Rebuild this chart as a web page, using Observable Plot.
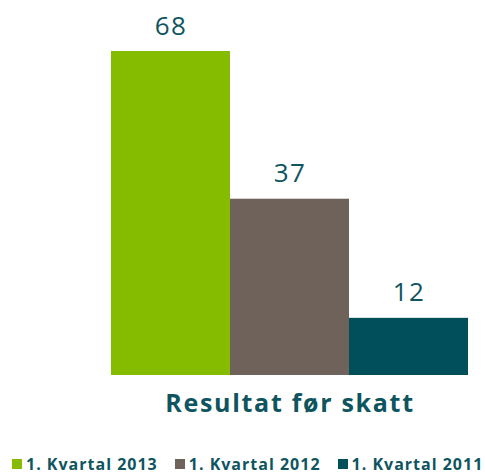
<!DOCTYPE html>
<html>
<head>
<meta charset="utf-8">
<script src="https://cdn.jsdelivr.net/npm/d3@7"></script>
<script src="https://cdn.jsdelivr.net/npm/@observablehq/plot@0.6"></script>
<style>
  body { margin: 0; background: #fff; font-family: "Open Sans", sans-serif; }
  #wrap { position: relative; width: 485px; height: 474px; overflow: hidden; }
  #legend { position: absolute; left: 12px; top: 455px; display: flex; white-space: nowrap;
    font: bold 16px/18px "Open Sans", sans-serif; letter-spacing: 1px; color: #0e5560; }
  .item { display: flex; align-items: center; margin-right: 17px; }
  .sw { width: 10px; height: 10px; margin-right: 4px; }
</style>
</head>
<body>
<div id="wrap"></div>
<script>
const categories = ["1. Kvartal 2013", "1. Kvartal 2012", "1. Kvartal 2011"];
const values = [68, 37, 12];
const colors = ["#86bc00", "#6e625a", "#004f5a"];
const axisLabel = "Resultat før skatt";
const textColor = "#0e5560";

const data = categories.map((c, i) => ({name: c, value: values[i]}));

const chart = Plot.plot({
  width: 485,
  height: 440,
  marginLeft: 110,
  marginRight: 16,
  marginTop: 51,
  marginBottom: 65,
  x: {domain: categories, padding: 0, axis: null},
  y: {domain: [0, 68], axis: null},
  color: {domain: categories, range: colors},
  style: {fontFamily: "Open Sans, sans-serif"},
  marks: [
    Plot.barY(data, {x: "name", y: "value", fill: "name"}),
    Plot.text(data, {x: "name", y: "value", text: d => String(d.value), dy: -17, lineAnchor: "bottom",
      fill: textColor, fontSize: 26}),
    Plot.text([axisLabel], {frameAnchor: "bottom", dy: 28, lineAnchor: "middle", text: d => d,
      fill: textColor, fontSize: 25, fontWeight: "bold"})
  ]
});
d3.select(chart).selectAll("text").each(function() {
  const t = d3.select(this);
  if (t.text() === axisLabel) t.attr("letter-spacing", "1.7px");
  else t.attr("letter-spacing", "1.5px");
});
const wrap = document.getElementById("wrap");
wrap.appendChild(chart);

const legend = document.createElement("div");
legend.id = "legend";
categories.forEach((c, i) => {
  const item = document.createElement("div");
  item.className = "item";
  const sw = document.createElement("div");
  sw.className = "sw";
  sw.style.background = colors[i];
  const t = document.createElement("span");
  t.textContent = c;
  item.appendChild(sw);
  item.appendChild(t);
  legend.appendChild(item);
});
wrap.appendChild(legend);
</script>
</body>
</html>
